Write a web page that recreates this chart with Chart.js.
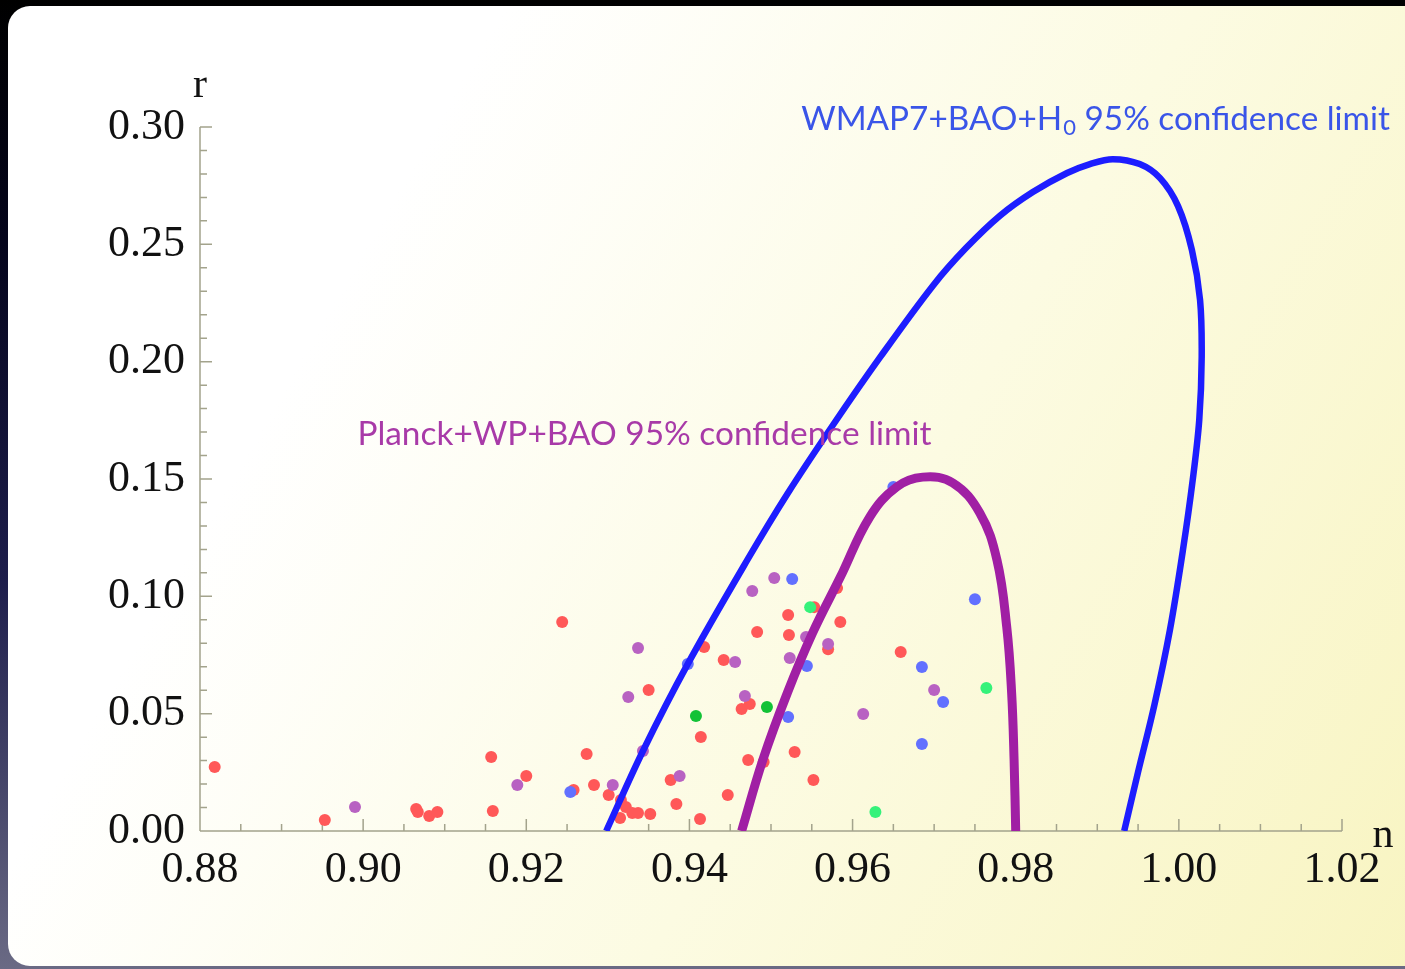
<!DOCTYPE html>
<html lang="en">
<head>
<meta charset="UTF-8">
<title>n - r plane</title>
<script src="https://cdn.jsdelivr.net/npm/chart.js"></script>
<style>
  html, body { margin: 0; padding: 0; }
  body {
    width: 1405px; height: 969px; overflow: hidden; position: relative;
    background: linear-gradient(180deg, #000 0%, #05051c 25%, #1e1e4c 60%, #6a6a84 100%);
  }
  .slide {
    position: absolute; left: 8px; top: 6px; width: 1430px; height: 960px;
    border-radius: 22px;
    background: linear-gradient(120deg, #ffffff 25%, #fcfbe2 60%, #f8f4c0 100%);
  }
  #wrap { position: absolute; left: 0; top: 0; width: 1405px; height: 969px; }
</style>
</head>
<body>
<div class="slide"></div>
<div id="wrap"><canvas id="nr" width="1405" height="969"></canvas></div>

<script>
  // contours (n, r)
  const wmapCurve = [
    [0.9298, 0], [0.9343, 0.0341], [0.9398, 0.0712], [0.9471, 0.1155], [0.9520, 0.1436],
    [0.9576, 0.1730], [0.9634, 0.2020], [0.9699, 0.2326], [0.9739, 0.2484], [0.9781, 0.2623],
    [0.9821, 0.2723], [0.9863, 0.2804], [0.9891, 0.2842], [0.9919, 0.2863], [0.9952, 0.2842],
    [0.9977, 0.2782], [0.9999, 0.2663], [1.0016, 0.2476], [1.0026, 0.2263], [1.0028, 0.2020],
    [1.0025, 0.1751], [1.0017, 0.1496], [1.0005, 0.1197], [0.9989, 0.0856], [0.9970, 0.0537],
    [0.9950, 0.0251], [0.9933, 0]
  ];
  const planckCurve = [
    [0.9464, 0], [0.9490, 0.0303], [0.9520, 0.0588], [0.9551, 0.0844], [0.9585, 0.1082],
    [0.9621, 0.1338], [0.9654, 0.1466], [0.9686, 0.1508], [0.9723, 0.1483], [0.9756, 0.1355],
    [0.9777, 0.1155], [0.9789, 0.0869], [0.9795, 0.0588], [0.9798, 0.0303], [0.9800, 0]
  ];

  // model predictions
  const redPts = [
    [0.8818, 0.0273], [0.8953, 0.0047], [0.9065, 0.0094], [0.9067, 0.0081], [0.9081, 0.0064],
    [0.9091, 0.0081], [0.9157, 0.0315], [0.9159, 0.0085], [0.9200, 0.0234], [0.9244, 0.0891],
    [0.9258, 0.0175], [0.9274, 0.0328], [0.9283, 0.0196], [0.9301, 0.0153], [0.9316, 0.0132],
    [0.9322, 0.0102], [0.9330, 0.0077], [0.9337, 0.0077], [0.9315, 0.0055], [0.9352, 0.0072],
    [0.9350, 0.0601], [0.9377, 0.0217], [0.9384, 0.0115], [0.9413, 0.0051], [0.9414, 0.0401],
    [0.9418, 0.0784], [0.9442, 0.0729], [0.9447, 0.0153], [0.9464, 0.0520], [0.9474, 0.0541],
    [0.9472, 0.0303], [0.9491, 0.0294], [0.9483, 0.0848], [0.9521, 0.0920], [0.9522, 0.0835],
    [0.9529, 0.0337], [0.9552, 0.0217], [0.9553, 0.0954], [0.9581, 0.1035], [0.9585, 0.0891],
    [0.9570, 0.0775], [0.9659, 0.0763]
  ];
  const purplePts = [
    [0.8990, 0.0102], [0.9189, 0.0196], [0.9306, 0.0196], [0.9325, 0.0571], [0.9337, 0.0780],
    [0.9343, 0.0341], [0.9388, 0.0234], [0.9456, 0.0720], [0.9468, 0.0575], [0.9477, 0.1023],
    [0.9504, 0.1078], [0.9523, 0.0737], [0.9543, 0.0827], [0.9570, 0.0797], [0.9613, 0.0499],
    [0.9700, 0.0601]
  ];
  const bluePts = [
    [0.9254, 0.0166], [0.9398, 0.0712], [0.9526, 0.1074], [0.9544, 0.0703], [0.9521, 0.0486],
    [0.9650, 0.1466], [0.9685, 0.0699], [0.9711, 0.0550], [0.9685, 0.0371], [0.9750, 0.0988]
  ];
  const darkGreenPts = [[0.9408, 0.0490], [0.9495, 0.0528]];
  const lightGreenPts = [[0.9548, 0.0954], [0.9628, 0.0081], [0.9764, 0.0609]];

  const nTicks = [0.88, 0.90, 0.92, 0.94, 0.96, 0.98, 1.00, 1.02];
  const rTicks = [0.00, 0.05, 0.10, 0.15, 0.20, 0.25, 0.30];

  const toXY = arr => arr.map(p => ({ x: p[0], y: p[1] }));
  const serif = { family: '"Liberation Serif", "DejaVu Serif", serif', size: 44 };
  const axisColor = '#a3a38c';
  const sans = 'Lato, "Open Sans", sans-serif';

  // mathematica-style axes: ticks pointing into the frame, axis names, contour labels
  const frameAxes = {
    id: 'frameAxes',
    beforeDatasetsDraw(chart) {
      const { ctx, scales: { x, y } } = chart;
      const x0 = x.getPixelForValue(0.88), y0 = y.getPixelForValue(0);
      ctx.save();
      ctx.strokeStyle = axisColor;
      ctx.lineWidth = 1.5;
      ctx.beginPath();
      ctx.moveTo(x0, y0); ctx.lineTo(x.getPixelForValue(1.02), y0);
      ctx.moveTo(x0, y0); ctx.lineTo(x0, y.getPixelForValue(0.30));
      for (let i = 0; i <= 28; i++) {
        const px = x.getPixelForValue(0.88 + i * 0.005);
        const len = i % 4 === 0 ? 12 : 7;
        ctx.moveTo(px, y0); ctx.lineTo(px, y0 - len);
      }
      for (let j = 0; j <= 30; j++) {
        const py = y.getPixelForValue(j * 0.01);
        const len = j % 5 === 0 ? 12 : 7;
        ctx.moveTo(x0, py); ctx.lineTo(x0 + len, py);
      }
      ctx.stroke();
      ctx.restore();
    },
    afterDraw(chart) {
      const { ctx, scales: { x, y } } = chart;
      ctx.save();
      ctx.fillStyle = '#111';
      ctx.font = '42px "Liberation Serif", serif';
      ctx.textAlign = 'center';
      ctx.textBaseline = 'alphabetic';
      ctx.fillText('r', x.getPixelForValue(0.88), y.getPixelForValue(0.30) - 30);
      ctx.fillText('n', x.getPixelForValue(1.02) + 41, y.getPixelForValue(0) + 16);

      ctx.textAlign = 'left';
      ctx.font = '33.3px ' + sans;
      ctx.fillStyle = '#3a55e8';
      let px = x.getPixelForValue(0.9537), py = y.getPixelForValue(0.2987);
      ctx.fillText('WMAP7+BAO+H', px, py);
      px += ctx.measureText('WMAP7+BAO+H').width;
      ctx.font = '22px ' + sans;
      ctx.fillText('0', px + 1, py + 5);
      px += ctx.measureText('0').width + 1;
      ctx.font = '33.3px ' + sans;
      ctx.fillText(' 95% confidence limit', px, py);

      ctx.font = '33.4px ' + sans;
      ctx.fillStyle = '#a83aa8';
      ctx.fillText('Planck+WP+BAO 95% confidence limit', x.getPixelForValue(0.8993), y.getPixelForValue(0.1645));
      ctx.restore();
    }
  };

  const dot = (data, color, order) => ({
    data: toXY(data), backgroundColor: color, borderWidth: 0,
    pointRadius: 6, pointHoverRadius: 6, order: order
  });

  new Chart(document.getElementById('nr'), {
    type: 'scatter',
    data: {
      datasets: [
        { data: toXY(wmapCurve), showLine: true, borderColor: '#1d1dff', borderWidth: 6.5,
          pointRadius: 0, tension: 0.35, order: 0 },
        { data: toXY(planckCurve), showLine: true, borderColor: '#a01fa4', borderWidth: 9,
          pointRadius: 0, tension: 0.4, order: 0 },
        dot(lightGreenPts, '#35f27a', 1),
        dot(darkGreenPts, '#12c236', 2),
        dot(bluePts, '#6270ff', 3),
        dot(purplePts, '#b862c2', 4),
        dot(redPts, '#ff5858', 5)
      ]
    },
    options: {
      responsive: false,
      animation: false,
      layout: { padding: { left: 0, top: 127, right: 63, bottom: 78 } },
      plugins: { legend: { display: false }, tooltip: { enabled: false } },
      scales: {
        x: {
          type: 'linear', min: 0.88, max: 1.02,
          grid: { display: false }, border: { display: false },
          afterBuildTicks: s => { s.ticks = nTicks.map(v => ({ value: v })); },
          ticks: { font: serif, color: '#111', padding: 5, maxRotation: 0, autoSkip: false,
                   callback: v => v.toFixed(2) },
          afterFit: s => { s.height = 60; }
        },
        y: {
          min: 0, max: 0.30,
          grid: { display: false }, border: { display: false },
          afterBuildTicks: s => { s.ticks = rTicks.map(v => ({ value: v })); },
          ticks: { font: serif, color: '#111', padding: 7, autoSkip: false,
                   callback: v => v.toFixed(2) },
          afterFit: s => { s.width = 200; }
        }
      }
    },
    plugins: [frameAxes]
  });
</script>
</body>
</html>
